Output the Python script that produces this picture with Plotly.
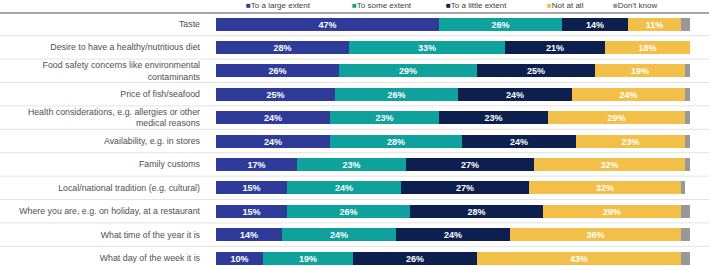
import plotly.graph_objects as go

categories = [
    "Taste",
    "Desire to have a healthy/nutritious diet",
    "Food safety concerns like environmental<br>contaminants",
    "Price of fish/seafood",
    "Health considerations, e.g. allergies or other<br>medical reasons",
    "Availability, e.g. in stores",
    "Family customs",
    "Local/national tradition (e.g. cultural)",
    "Where you are, e.g. on holiday, at a restaurant",
    "What time of the year it is",
    "What day of the week it is",
]
large_extent = [47, 28, 26, 25, 24, 24, 17, 15, 15, 14, 10]
some_extent = [26, 33, 29, 26, 23, 28, 23, 24, 26, 24, 19]
little_extent = [14, 21, 25, 24, 23, 24, 27, 27, 28, 24, 26]
not_at_all = [11, 18, 19, 24, 29, 23, 32, 32, 29, 36, 43]
dont_know = [2, 0.3, 1, 1, 1, 1, 1, 1, 2, 2, 2]

series_names = ["To a large extent", "To some extent", "To a little extent", "Not at all", "Don't know"]
series_values = [large_extent, some_extent, little_extent, not_at_all, dont_know]
colors = ["#2E3B98", "#0FA29D", "#0C1F4E", "#F2BF48", "#989898"]

W, H = 709, 266
ML, MR, MT, MB = 216, 19, 13, 0
PW, PH = W - ML - MR, H - MT - MB
row0, rowN = 24, 258
step = (rowN - row0) / (len(categories) - 1)
ytop = -(row0 - MT) / step
ybot = ytop + PH / step

fig = go.Figure()
for name, vals, col in zip(series_names, series_values, colors):
    show_text = name != "Don't know"
    fig.add_trace(go.Bar(
        y=categories, x=vals, name=name, orientation="h",
        marker=dict(color=col, line=dict(width=0)),
        width=13 / step,
        text=[f"{v}%" for v in vals] if show_text else None,
        textposition="inside" if show_text else "none",
        insidetextanchor="middle",
        textangle=0,
        textfont=dict(family="Liberation Sans, Arial", size=9, color="white", weight="bold"),
        showlegend=False,
        hoverinfo="skip",
    ))

shapes = []
x0p = -ML / PW
x1p = (W - ML) / PW
for i in range(len(categories) - 1):
    shapes.append(dict(type="line", xref="paper", yref="y", x0=x0p, x1=x1p,
                       y0=i + 0.5, y1=i + 0.5, line=dict(color="#E3E3E3", width=1)))
shapes.append(dict(type="line", xref="paper", yref="paper", x0=x0p, x1=x1p,
                   y0=1, y1=1, line=dict(color="#8A8A8A", width=1.5)))

legend_px = [244, 350, 444, 545, 611]
annotations = []
for name, col, px in zip(series_names, colors, legend_px):
    annotations.append(dict(
        xref="paper", yref="paper", x=(px - ML) / PW, y=1 + (MT - 6) / PH,
        xanchor="left", yanchor="middle", showarrow=False,
        text=f"<span style='color:{col}'>■</span>{name}",
        font=dict(family="Liberation Sans, Arial", size=8, color="#404040"),
    ))

fig.update_layout(
    width=W, height=H,
    margin=dict(l=ML, r=MR, t=MT, b=MB, pad=0, autoexpand=False),
    barmode="stack", bargap=0,
    plot_bgcolor="white", paper_bgcolor="white",
    showlegend=False,
    shapes=shapes, annotations=annotations,
    uniformtext=dict(minsize=9, mode="show"),
    xaxis=dict(range=[0, 100], visible=False, fixedrange=True),
    yaxis=dict(categoryorder="array", categoryarray=categories, automargin=False,
               range=[ybot, ytop], showgrid=False, zeroline=False, showline=False,
               ticks="", ticklabelstandoff=15,
               tickfont=dict(family="Liberation Sans, Arial", size=8.8, color="#505050")),
)

fig.write_html("out.html")
